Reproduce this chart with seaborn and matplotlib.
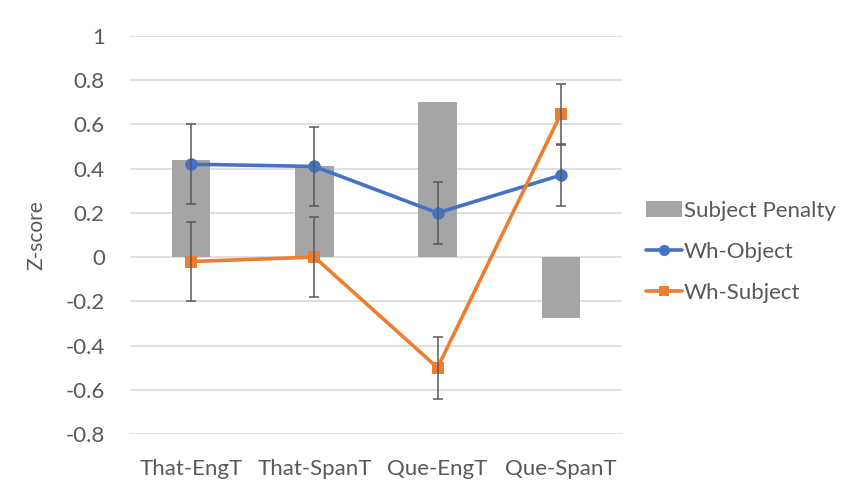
import matplotlib
matplotlib.use("Agg")
import matplotlib.pyplot as plt
from matplotlib.lines import Line2D
from matplotlib.patches import Patch
import seaborn as sns
import pandas as pd

conditions = ["That-EngT", "That-SpanT", "Que-EngT", "Que-SpanT"]
wh_object = [0.42, 0.41, 0.20, 0.37]
wh_object_err = [0.18, 0.18, 0.14, 0.14]
wh_subject = [-0.02, 0.00, -0.50, 0.645]
wh_subject_err = [0.18, 0.18, 0.14, 0.14]
subject_penalty = [0.44, 0.41, 0.70, -0.275]
y_ticks = [1, 0.8, 0.6, 0.4, 0.2, 0, -0.2, -0.4, -0.6, -0.8]

BLUE = "#4472C4"
ORANGE = "#ED7D31"
GRAY = "#A5A5A5"
TEXT = "#595959"
GRID = "#D9D9D9"

df = pd.DataFrame({"condition": conditions, "penalty": subject_penalty})

sns.set_theme(style="white")
plt.rcParams.update({
    "font.family": ["Lato", "DejaVu Sans"],
    "xtick.color": TEXT,
    "ytick.color": TEXT,
    "xtick.labelcolor": TEXT,
    "ytick.labelcolor": TEXT,
    "xtick.labelsize": 16,
    "ytick.labelsize": 16,
    "xtick.major.size": 0,
    "ytick.major.size": 0,
    "xtick.major.pad": 18,
    "ytick.major.pad": 18,
})

fig = plt.figure(figsize=(8.43, 4.86), dpi=100)
ax = fig.add_axes([0.154, 0.107, 0.584, 0.819])

# grey bars: penalty per condition
sns.barplot(data=df, x="condition", y="penalty", color=GRAY, width=0.31,
            saturation=1, linewidth=0, ax=ax)

# Wh-Object / Wh-Subject lines with error bars
xpos = list(range(len(conditions)))
sns.lineplot(x=xpos, y=wh_object, color=BLUE, linewidth=2.6, marker="o",
             markersize=9, markeredgewidth=0, ax=ax, zorder=3)
sns.lineplot(x=xpos, y=wh_subject, color=ORANGE, linewidth=2.6, marker="s",
             markersize=8, markeredgewidth=0, ax=ax, zorder=3)
ax.errorbar(xpos, wh_object, yerr=wh_object_err, fmt="none", ecolor=TEXT,
            elinewidth=1.1, capsize=3.5, capthick=1.1, zorder=4)
ax.errorbar(xpos, wh_subject, yerr=wh_subject_err, fmt="none", ecolor=TEXT,
            elinewidth=1.1, capsize=3.5, capthick=1.1, zorder=4)

ax.set_xlim(-0.5, 3.5)
ax.set_ylim(-0.8, 1.0)
ax.set_yticks(y_ticks)
ax.set_yticklabels([f"{t:g}" for t in y_ticks])
ax.grid(False)
ax.yaxis.grid(True, color=GRID, linewidth=1.2)
ax.set_axisbelow(True)
for s in ax.spines.values():
    s.set_visible(False)

ax.set_xlabel("")
ax.set_ylabel("Z-score", color=TEXT, fontsize=15, labelpad=14)

handles = [
    Patch(facecolor=GRAY, edgecolor="none"),
    Line2D([0], [0], color=BLUE, linewidth=2.6, marker="o", markersize=8,
           markeredgewidth=0),
    Line2D([0], [0], color=ORANGE, linewidth=2.6, marker="s", markersize=7,
           markeredgewidth=0),
]
labels = ["Subject Penalty", "Wh-Object", "Wh-Subject"]
leg = fig.legend(handles, labels, loc="upper left", bbox_to_anchor=(0.756, 0.605),
                 frameon=False, fontsize=16, handlelength=1.6,
                 handletextpad=0.1, labelspacing=0.95, borderaxespad=0)
for t in leg.get_texts():
    t.set_color(TEXT)

fig.savefig("out.png", dpi=100)
